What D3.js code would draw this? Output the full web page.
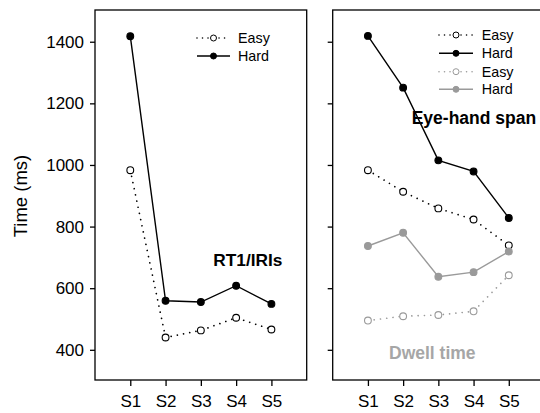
<!DOCTYPE html>
<html><head><meta charset="utf-8">
<script src="https://cdn.jsdelivr.net/npm/d3@7"></script>
<style>body{margin:0;background:#fff}svg{display:block}text{font-family:"Liberation Sans",Arial,sans-serif}</style>
</head><body>
<svg id="c" width="540" height="413"></svg>
<script>
const sessions = ["S1","S2","S3","S4","S5"];
const yTicks = [400,600,800,1000,1200,1400];
const rtEasy = [983,440,463,504,466];
const rtHard = [1418,559,555,608,549];
const ehsEasy = [983,913,859,823,739];
const ehsHard = [1419,1251,1015,979,828];
const dwellEasy = [495,509,513,525,642];
const dwellHard = [737,780,637,652,719];

const svg = d3.select("#c");
const plotTop = 10, plotBottom = 380;
const y = d3.scaleLinear().domain([302,1503]).range([plotBottom, plotTop]);
const panels = [{x0:95, x1:306.7, labels:true}, {x0:332.7, x1:544, labels:false}];
const gray = "#9a9a9a";
const DOT = "0.01,6.3";

panels.forEach(p => {
  p.x = d3.scalePoint().domain(["", ...sessions, " "]).range([p.x0, p.x1]);
  const g = svg.append("g");
  g.append("rect").attr("x",p.x0).attr("y",plotTop).attr("width",p.x1-p.x0).attr("height",plotBottom-plotTop)
    .attr("fill","none").attr("stroke","#000").attr("stroke-width",1.3);
  const ya = d3.axisLeft(y).tickValues(yTicks).tickSize(5).tickPadding(6).tickFormat(d3.format("d"));
  if(!p.labels) ya.tickFormat("");
  const yg = g.append("g").attr("transform",`translate(${p.x0},0)`).call(ya);
  yg.select(".domain").remove();
  yg.selectAll("line").attr("stroke","#000").attr("stroke-width",1.3);
  yg.selectAll("text").attr("font-size",17).attr("fill","#000").attr("font-family","Liberation Sans, Arial");
  const xa = d3.axisBottom(p.x).tickValues(sessions).tickSize(6).tickPadding(9);
  const xg = g.append("g").attr("transform",`translate(0,${plotBottom})`).call(xa);
  xg.select(".domain").remove();
  xg.selectAll("line").attr("stroke","#000").attr("stroke-width",1.3);
  xg.selectAll("text").attr("font-size",17).attr("fill","#000").attr("font-family","Liberation Sans, Arial");
});

function series(p, vals, color, filled, dotted){
  const line = d3.line().x((d,i)=>p.x(sessions[i])).y(d=>y(d));
  svg.append("path").datum(vals).attr("d",line).attr("fill","none").attr("stroke",color)
    .attr("stroke-width",dotted?1.7:1.4).attr("stroke-dasharray",dotted?DOT:null)
    .attr("stroke-linecap",dotted?"round":"butt");
  svg.append("g").selectAll("circle").data(vals).join("circle")
    .attr("cx",(d,i)=>p.x(sessions[i])).attr("cy",d=>y(d)).attr("r",3.4)
    .attr("fill",filled?color:"#fff").attr("stroke",color).attr("stroke-width",1.1);
}
const L = panels[0], R = panels[1];
series(L, rtEasy, "#000", false, true);
series(L, rtHard, "#000", true, false);
series(R, ehsEasy, "#000", false, true);
series(R, ehsHard, "#000", true, false);
series(R, dwellEasy, gray, false, true);
series(R, dwellHard, gray, true, false);

function legend(x0, x1, tx, yc, label, color, filled, dotted){
  const g = svg.append("g");
  g.append("line").attr("x1",x0).attr("x2",x1).attr("y1",yc).attr("y2",yc).attr("stroke",color)
    .attr("stroke-width",dotted?1.6:1.4).attr("stroke-dasharray",dotted?"0.01,5.5":null).attr("stroke-linecap",dotted?"round":"butt");
  g.append("circle").attr("cx",(x0+x1)/2).attr("cy",yc).attr("r",3)
    .attr("fill",filled?color:"#fff").attr("stroke",color).attr("stroke-width",1);
  g.append("text").attr("x",tx).attr("y",yc).attr("dy","0.35em").attr("font-size",14.3).attr("fill","#000").text(label);
}
legend(197,230,238,38,"Easy","#000",false,true);
legend(197,230,238,56,"Hard","#000",true,false);
legend(439,473,481.7,35,"Easy","#000",false,true);
legend(439,473,481.7,53.3,"Hard","#000",true,false);
legend(439,473,481.7,71.7,"Easy",gray,false,true);
legend(439,473,481.7,89.3,"Hard",gray,true,false);

svg.append("text").attr("x",213.3).attr("y",266).attr("font-size",17.3).attr("font-weight","bold").attr("fill","#000").text("RT1/IRIs");
svg.append("text").attr("x",411.7).attr("y",124).attr("font-size",17.5).attr("font-weight","bold").attr("fill","#000").text("Eye-hand span");
svg.append("text").attr("x",389).attr("y",359).attr("font-size",17.5).attr("font-weight","bold").attr("fill","#a6a6a6").text("Dwell time");
svg.append("text").attr("transform","translate(26.5,196) rotate(-90)").attr("text-anchor","middle")
  .attr("font-size",18.5).attr("fill","#000").text("Time (ms)");
</script>
</body></html>
